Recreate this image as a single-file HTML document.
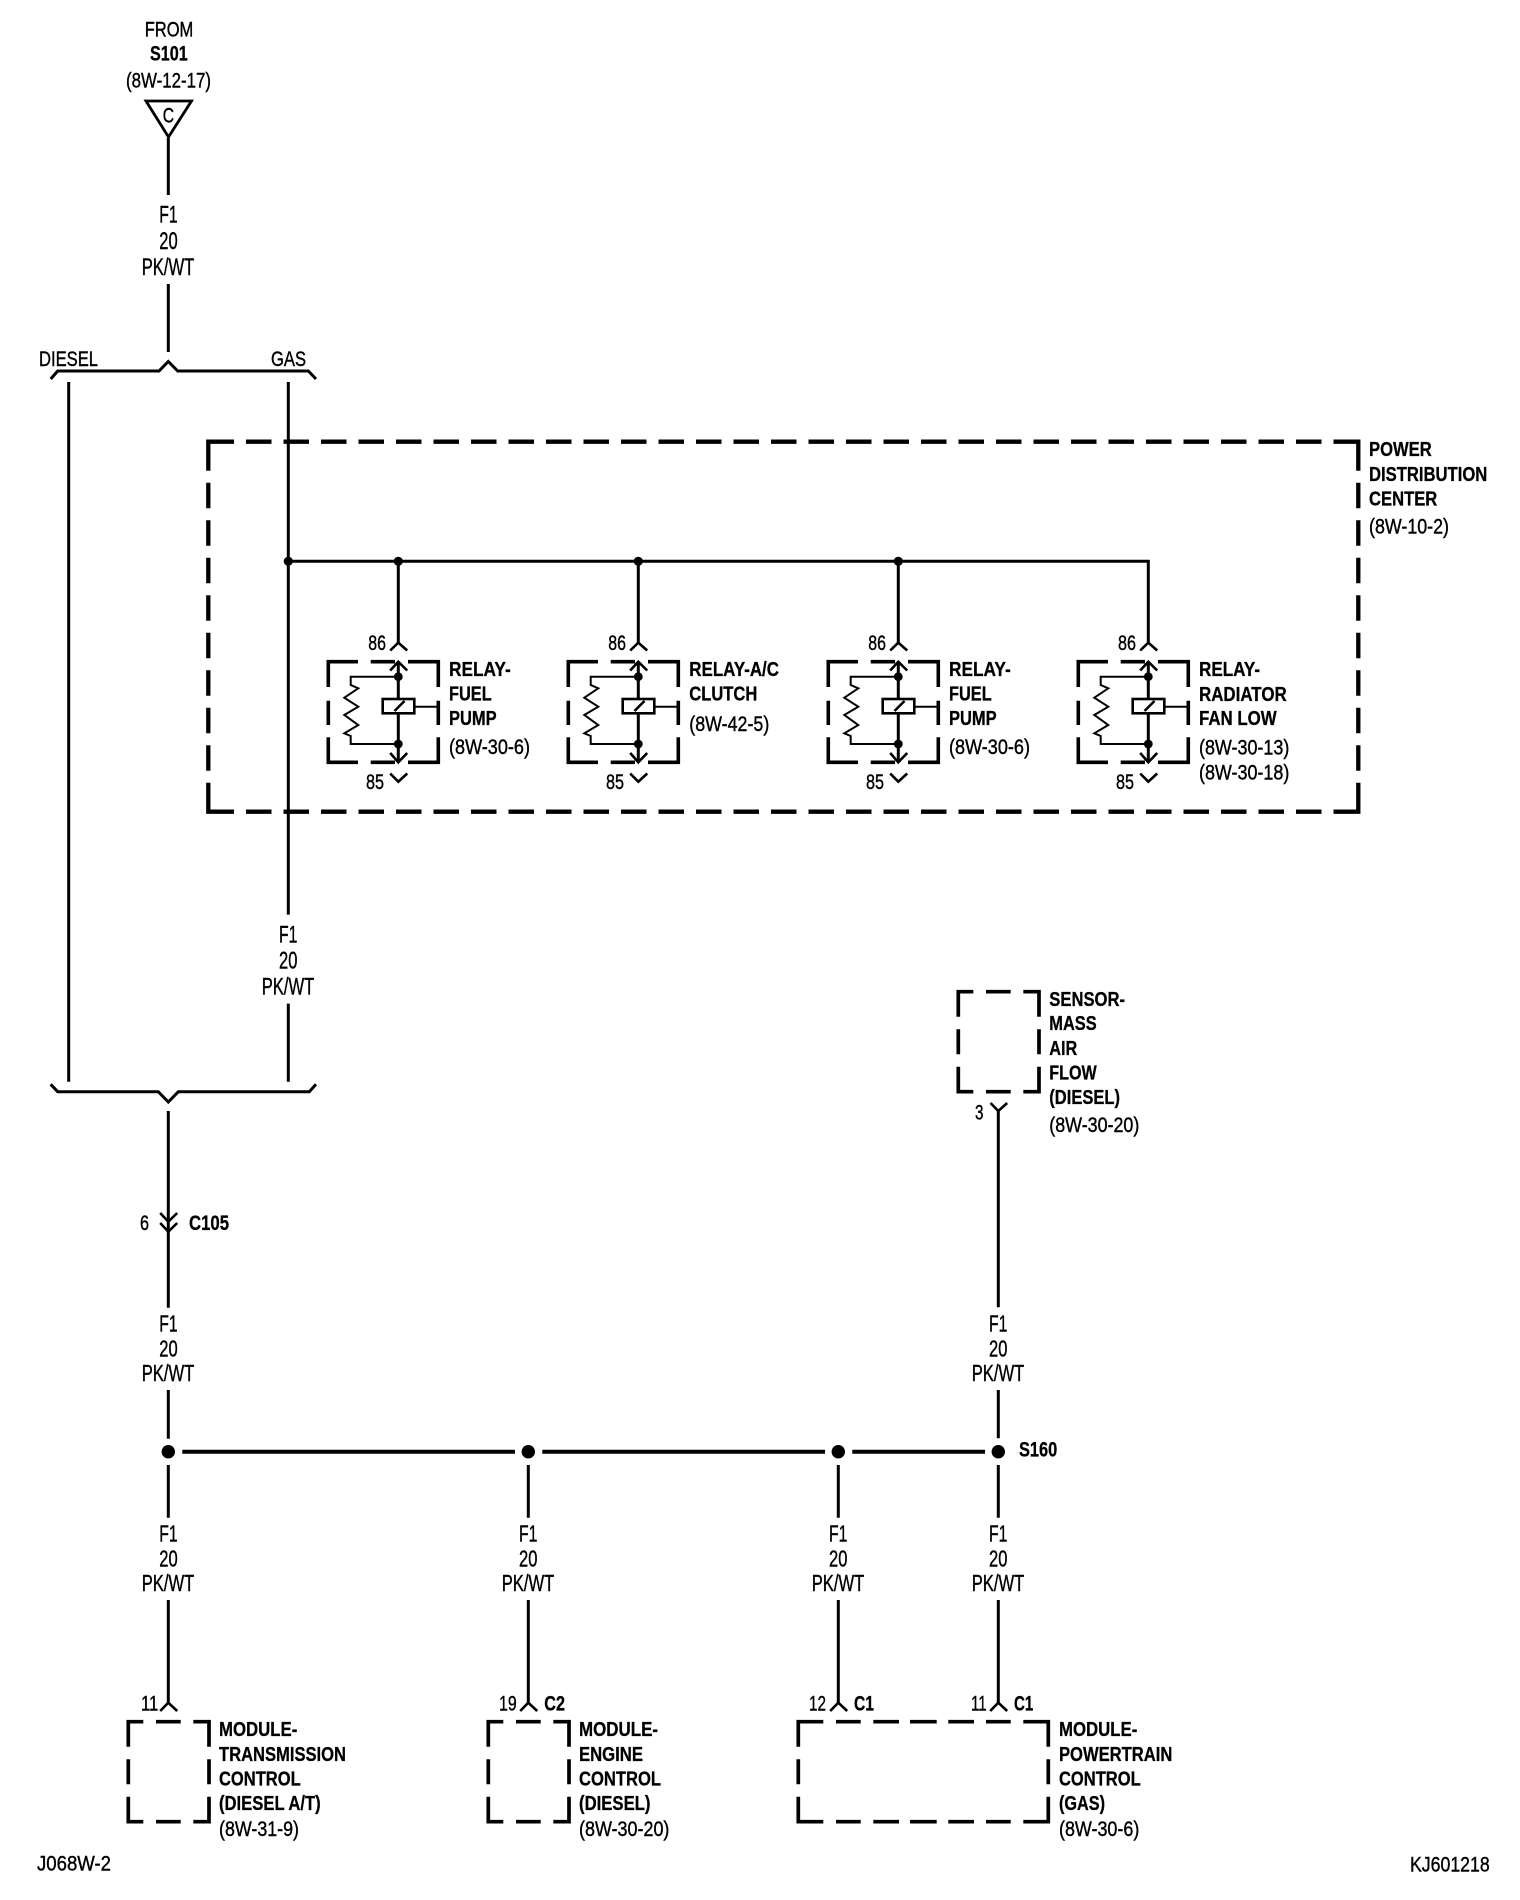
<!DOCTYPE html>
<html>
<head>
<meta charset="utf-8">
<title>Wiring diagram</title>
<style>
html,body{margin:0;padding:0;background:#fff}
svg{display:block}
text{font-family:"Liberation Sans",sans-serif;fill:#000;stroke:#000;stroke-width:.4px}
.b{font-weight:bold;font-size:20.5px;stroke-width:.3px}
.r{font-size:21px}
.w{font-size:23px}
.t{font-size:24px}
.n{font-size:21.5px}
.s{font-weight:bold;font-size:21.5px;stroke-width:.3px}
.l{fill:none;stroke:#000;stroke-linecap:butt;stroke-linejoin:miter}
</style>
</head>
<body>
<svg xmlns="http://www.w3.org/2000/svg" width="1520" height="1900" viewBox="0 0 1520 1900">
<rect width="1520" height="1900" fill="#fff"/>

<defs>
<g id="relay">
  <path class="l" stroke-width="3.6" d="M328.3 687V661.7H358M370.7 661.7H395M408 661.7H438.3V687M328.3 700.7V725M438.3 700.7V725M328.3 737.3V762.3H358M370.7 762.3H395M408 762.3H438.3V737.3"/>
  <path class="l" stroke-width="2.6" d="M390.2 650.5L398.3 642.7L407.2 650.5M390.2 670.5L398.3 661.7L407.2 670.5M390.2 753L398.3 762.3L407.2 753M390.2 773.5L398.3 781.7L407.2 773.5"/>
  <path class="l" stroke-width="3" d="M398.3 662V699M398.3 713.3V762"/>
  <circle cx="398.3" cy="676.7" r="4.4"/>
  <circle cx="398.3" cy="744" r="4.4"/>
  <rect class="l" stroke-width="2.6" x="382.7" y="699" width="31.6" height="14.3"/>
  <path class="l" stroke-width="2.6" d="M394.5 711L404.5 701"/>
  <path class="l" stroke-width="2" d="M414.3 706.7H437"/>
  <path class="l" stroke-width="2" d="M398 676.7H350.7V685L358.3 688.3L344.3 697.7L358.3 706.7L344.3 715L358.3 725L344.3 733.3L350.7 736V744H398"/>
</g>
<path id="mod" class="l" stroke-width="3.7" d="M128.3 1746.7V1721.7H143.3M156 1721.7H180.7M193.3 1721.7H209V1746.7M128.3 1759.3V1784.3M209 1759.3V1784.3M128.3 1796.7V1821.7H143.3M156 1821.7H180.7M193.3 1821.7H209V1796.7"/>
</defs>

<!-- top source -->
<text class="r" x="144.7" y="36.7" textLength="48.6" lengthAdjust="spacingAndGlyphs">FROM</text>
<text class="s" x="150" y="60.7" textLength="37.7" lengthAdjust="spacingAndGlyphs">S101</text>
<text class="r" x="126" y="87.3" textLength="85" lengthAdjust="spacingAndGlyphs">(8W-12-17)</text>
<path class="l" stroke-width="2.8" d="M146 101H191.5L168.5 137Z"/>
<text class="r" x="162.7" y="122.3" textLength="11.3" lengthAdjust="spacingAndGlyphs">C</text>
<path class="l" stroke-width="3" d="M168.3 138V195M168.3 284V352"/>
<text class="t" x="159.3" y="222.7" textLength="18.4" lengthAdjust="spacingAndGlyphs">F1</text>
<text class="t" x="159.3" y="249" textLength="18.4" lengthAdjust="spacingAndGlyphs">20</text>
<text class="t" x="141.7" y="275" textLength="52.6" lengthAdjust="spacingAndGlyphs">PK/WT</text>

<!-- upper bracket -->
<text class="n" x="39" y="366" textLength="59" lengthAdjust="spacingAndGlyphs">DIESEL</text>
<text class="n" x="271" y="366" textLength="35" lengthAdjust="spacingAndGlyphs">GAS</text>
<path class="l" stroke-width="3" d="M50.7 379L57.7 371H159L168.3 361.5L177.7 371H308.3L316 379"/>
<path class="l" stroke-width="3" d="M68.7 382V1081.7M288.3 382V914.6M288.3 1003.6V1081.7"/>
<text class="t" x="279" y="942.3" textLength="18.4" lengthAdjust="spacingAndGlyphs">F1</text>
<text class="t" x="279" y="968.6" textLength="18.4" lengthAdjust="spacingAndGlyphs">20</text>
<text class="t" x="261.7" y="994.6" textLength="52.6" lengthAdjust="spacingAndGlyphs">PK/WT</text>

<!-- power distribution center -->
<path class="l" stroke-width="4.3" d="M208.3 470.7V441.7H234M1333.5 441.7H1358.3V470.7M208.3 782.7V811.7H234M1333.5 811.7H1358.3V782.7"/>
<path class="l" stroke-width="4.3" stroke-dasharray="25.5 12" d="M246 441.7H1321.5M246 811.7H1321.5M208.3 482.7V770.7M1358.3 482.7V770.7"/>
<text class="b" x="1369" y="456" textLength="62.7" lengthAdjust="spacingAndGlyphs">POWER</text>
<text class="b" x="1369" y="481" textLength="118.3" lengthAdjust="spacingAndGlyphs">DISTRIBUTION</text>
<text class="b" x="1369" y="505.7" textLength="68.3" lengthAdjust="spacingAndGlyphs">CENTER</text>
<text class="r" x="1369" y="533.3" textLength="80" lengthAdjust="spacingAndGlyphs">(8W-10-2)</text>

<!-- bus -->
<path class="l" stroke-width="3" d="M288.3 561.3H1148.3V643M398.3 561.3V643M638.3 561.3V643M898.3 561.3V643"/>
<circle cx="288.3" cy="561.3" r="4.6"/>
<circle cx="398.3" cy="561.3" r="4.6"/>
<circle cx="638.3" cy="561.3" r="4.6"/>
<circle cx="898.3" cy="561.3" r="4.6"/>

<!-- relays -->
<use href="#relay"/>
<use href="#relay" transform="translate(240 0)"/>
<use href="#relay" transform="translate(500 0)"/>
<use href="#relay" transform="translate(750 0)"/>

<text class="n" x="368.3" y="650" textLength="17.7" lengthAdjust="spacingAndGlyphs">86</text>
<text class="n" x="366" y="789" textLength="18" lengthAdjust="spacingAndGlyphs">85</text>
<text class="b" x="449" y="676" textLength="61.7" lengthAdjust="spacingAndGlyphs">RELAY-</text>
<text class="b" x="449" y="700.7" textLength="42.7" lengthAdjust="spacingAndGlyphs">FUEL</text>
<text class="b" x="449" y="725" textLength="47.7" lengthAdjust="spacingAndGlyphs">PUMP</text>
<text class="r" x="449" y="754" textLength="81" lengthAdjust="spacingAndGlyphs">(8W-30-6)</text>

<text class="n" x="608.3" y="650" textLength="17.7" lengthAdjust="spacingAndGlyphs">86</text>
<text class="n" x="606" y="789" textLength="18" lengthAdjust="spacingAndGlyphs">85</text>
<text class="b" x="689.3" y="676" textLength="89.7" lengthAdjust="spacingAndGlyphs">RELAY-A/C</text>
<text class="b" x="689.3" y="700.7" textLength="68" lengthAdjust="spacingAndGlyphs">CLUTCH</text>
<text class="r" x="689.3" y="731" textLength="80" lengthAdjust="spacingAndGlyphs">(8W-42-5)</text>

<text class="n" x="868.3" y="650" textLength="17.7" lengthAdjust="spacingAndGlyphs">86</text>
<text class="n" x="866" y="789" textLength="18" lengthAdjust="spacingAndGlyphs">85</text>
<text class="b" x="949" y="676" textLength="61.7" lengthAdjust="spacingAndGlyphs">RELAY-</text>
<text class="b" x="949" y="700.7" textLength="42.7" lengthAdjust="spacingAndGlyphs">FUEL</text>
<text class="b" x="949" y="725" textLength="47.7" lengthAdjust="spacingAndGlyphs">PUMP</text>
<text class="r" x="949" y="754" textLength="81" lengthAdjust="spacingAndGlyphs">(8W-30-6)</text>

<text class="n" x="1118" y="650" textLength="18" lengthAdjust="spacingAndGlyphs">86</text>
<text class="n" x="1116" y="789" textLength="18" lengthAdjust="spacingAndGlyphs">85</text>
<text class="b" x="1199" y="676" textLength="61" lengthAdjust="spacingAndGlyphs">RELAY-</text>
<text class="b" x="1199" y="701" textLength="87.7" lengthAdjust="spacingAndGlyphs">RADIATOR</text>
<text class="b" x="1199" y="725" textLength="77.7" lengthAdjust="spacingAndGlyphs">FAN LOW</text>
<text class="r" x="1199" y="754.3" textLength="90.3" lengthAdjust="spacingAndGlyphs">(8W-30-13)</text>
<text class="r" x="1199" y="779.3" textLength="90.3" lengthAdjust="spacingAndGlyphs">(8W-30-18)</text>

<!-- lower bracket and C105 -->
<path class="l" stroke-width="3" d="M50.7 1084.3L57.7 1091.7H158.3L168.3 1102L178.3 1091.7H309.3L316 1084.3"/>
<path class="l" stroke-width="3" d="M168.3 1111V1307.7M168.3 1390V1438.7M168.3 1465V1517.7M168.3 1600V1703"/>
<path class="l" stroke-width="2.6" d="M160.2 1213L168.3 1221.7L177.2 1213M160.2 1223L168.3 1231.7L177.2 1223"/>
<text class="n" x="140" y="1230" textLength="9" lengthAdjust="spacingAndGlyphs">6</text>
<text class="s" x="189" y="1230" textLength="40" lengthAdjust="spacingAndGlyphs">C105</text>

<!-- wire labels -->
<text class="w" x="159.3" y="1331.7" textLength="18.4" lengthAdjust="spacingAndGlyphs">F1</text>
<text class="w" x="159.3" y="1356.7" textLength="18.4" lengthAdjust="spacingAndGlyphs">20</text>
<text class="w" x="141.7" y="1381" textLength="52.6" lengthAdjust="spacingAndGlyphs">PK/WT</text>

<text class="w" x="989" y="1331.7" textLength="18.4" lengthAdjust="spacingAndGlyphs">F1</text>
<text class="w" x="989" y="1356.7" textLength="18.4" lengthAdjust="spacingAndGlyphs">20</text>
<text class="w" x="971.7" y="1381" textLength="52.6" lengthAdjust="spacingAndGlyphs">PK/WT</text>

<text class="w" x="159.3" y="1541.7" textLength="18.4" lengthAdjust="spacingAndGlyphs">F1</text>
<text class="w" x="159.3" y="1566.7" textLength="18.4" lengthAdjust="spacingAndGlyphs">20</text>
<text class="w" x="141.7" y="1591" textLength="52.6" lengthAdjust="spacingAndGlyphs">PK/WT</text>

<text class="w" x="519" y="1541.7" textLength="18.4" lengthAdjust="spacingAndGlyphs">F1</text>
<text class="w" x="519" y="1566.7" textLength="18.4" lengthAdjust="spacingAndGlyphs">20</text>
<text class="w" x="501.7" y="1591" textLength="52.6" lengthAdjust="spacingAndGlyphs">PK/WT</text>

<text class="w" x="829" y="1541.7" textLength="18.4" lengthAdjust="spacingAndGlyphs">F1</text>
<text class="w" x="829" y="1566.7" textLength="18.4" lengthAdjust="spacingAndGlyphs">20</text>
<text class="w" x="811.7" y="1591" textLength="52.6" lengthAdjust="spacingAndGlyphs">PK/WT</text>

<text class="w" x="989" y="1541.7" textLength="18.4" lengthAdjust="spacingAndGlyphs">F1</text>
<text class="w" x="989" y="1566.7" textLength="18.4" lengthAdjust="spacingAndGlyphs">20</text>
<text class="w" x="971.7" y="1591" textLength="52.6" lengthAdjust="spacingAndGlyphs">PK/WT</text>

<!-- splice bus -->
<path class="l" stroke-width="4" d="M182.3 1451.7H515M542.3 1451.7H825M852.3 1451.7H985"/>
<circle cx="168.3" cy="1451.7" r="6.7"/>
<circle cx="528.3" cy="1451.7" r="6.7"/>
<circle cx="838.3" cy="1451.7" r="6.7"/>
<circle cx="998.3" cy="1451.7" r="6.7"/>
<text class="s" x="1019" y="1456.7" textLength="38.3" lengthAdjust="spacingAndGlyphs">S160</text>
<path class="l" stroke-width="3" d="M528.3 1465V1517.7M528.3 1600V1703M838.3 1465V1517.7M838.3 1600V1703M998.3 1465V1517.7M998.3 1600V1703M998.3 1111V1307.3M998.3 1390V1438.3"/>

<!-- sensor -->
<use href="#mod" transform="translate(830 -730)"/>
<path class="l" stroke-width="2.6" d="M990.5 1103L998.3 1111L1007.2 1103"/>
<text class="n" x="975" y="1119.3" textLength="8.5" lengthAdjust="spacingAndGlyphs">3</text>
<text class="b" x="1049.3" y="1006" textLength="75.7" lengthAdjust="spacingAndGlyphs">SENSOR-</text>
<text class="b" x="1049.3" y="1030" textLength="47.4" lengthAdjust="spacingAndGlyphs">MASS</text>
<text class="b" x="1049.3" y="1055" textLength="28" lengthAdjust="spacingAndGlyphs">AIR</text>
<text class="b" x="1049.3" y="1079.3" textLength="47.4" lengthAdjust="spacingAndGlyphs">FLOW</text>
<text class="b" x="1049.3" y="1104" textLength="70.7" lengthAdjust="spacingAndGlyphs">(DIESEL)</text>
<text class="r" x="1049.3" y="1132" textLength="90" lengthAdjust="spacingAndGlyphs">(8W-30-20)</text>

<!-- bottom modules -->
<path class="l" stroke-width="2.6" d="M160.2 1711L168.3 1702.7L177.2 1711M520.2 1711L528.3 1702.7L537.2 1711M830.2 1711L838.3 1702.7L847.2 1711M990.2 1711L998.3 1702.7L1007.2 1711"/>
<use href="#mod"/>
<use href="#mod" transform="translate(360 0)"/>
<path class="l" stroke-width="3.7" d="M823.3 1721.7H798.3V1746.7M836 1721.7H860.7M873.3 1721.7H899M910 1721.7H936.7M948.3 1721.7H974M986 1721.7H1010.7M1023.3 1721.7H1048.3V1746.7M798.3 1759.3V1784.3M1048.3 1759.3V1784.3M798.3 1796.7V1821.7H823.3M836 1821.7H860.7M873.3 1821.7H899M910 1821.7H936.7M948.3 1821.7H974M986 1821.7H1010.7M1023.3 1821.7H1048.3V1796.7"/>

<text class="n" x="141" y="1710.7" textLength="17.3" lengthAdjust="spacingAndGlyphs">11</text>
<text class="b" x="219" y="1736" textLength="78.3" lengthAdjust="spacingAndGlyphs">MODULE-</text>
<text class="b" x="219" y="1761" textLength="127" lengthAdjust="spacingAndGlyphs">TRANSMISSION</text>
<text class="b" x="219" y="1785.7" textLength="81.7" lengthAdjust="spacingAndGlyphs">CONTROL</text>
<text class="b" x="219" y="1810" textLength="101.7" lengthAdjust="spacingAndGlyphs">(DIESEL A/T)</text>
<text class="r" x="219" y="1836" textLength="80" lengthAdjust="spacingAndGlyphs">(8W-31-9)</text>

<text class="n" x="499" y="1710.7" textLength="17.7" lengthAdjust="spacingAndGlyphs">19</text>
<text class="s" x="544.3" y="1710.7" textLength="20.7" lengthAdjust="spacingAndGlyphs">C2</text>
<text class="b" x="579" y="1736" textLength="79" lengthAdjust="spacingAndGlyphs">MODULE-</text>
<text class="b" x="579" y="1761" textLength="64" lengthAdjust="spacingAndGlyphs">ENGINE</text>
<text class="b" x="579" y="1785.7" textLength="82" lengthAdjust="spacingAndGlyphs">CONTROL</text>
<text class="b" x="579" y="1810" textLength="71.5" lengthAdjust="spacingAndGlyphs">(DIESEL)</text>
<text class="r" x="579" y="1836" textLength="90.4" lengthAdjust="spacingAndGlyphs">(8W-30-20)</text>

<text class="n" x="809" y="1710.7" textLength="17" lengthAdjust="spacingAndGlyphs">12</text>
<text class="s" x="854" y="1710.7" textLength="20" lengthAdjust="spacingAndGlyphs">C1</text>
<text class="n" x="971" y="1710.7" textLength="15.7" lengthAdjust="spacingAndGlyphs">11</text>
<text class="s" x="1014" y="1710.7" textLength="19.3" lengthAdjust="spacingAndGlyphs">C1</text>
<text class="b" x="1059" y="1736" textLength="78.3" lengthAdjust="spacingAndGlyphs">MODULE-</text>
<text class="b" x="1059" y="1761" textLength="113.3" lengthAdjust="spacingAndGlyphs">POWERTRAIN</text>
<text class="b" x="1059" y="1785.7" textLength="81.7" lengthAdjust="spacingAndGlyphs">CONTROL</text>
<text class="b" x="1059" y="1810" textLength="46" lengthAdjust="spacingAndGlyphs">(GAS)</text>
<text class="r" x="1059" y="1836" textLength="80.3" lengthAdjust="spacingAndGlyphs">(8W-30-6)</text>

<!-- footer -->
<text class="r" x="37" y="1870.7" textLength="74" lengthAdjust="spacingAndGlyphs">J068W-2</text>
<text class="r" x="1410" y="1871.7" textLength="79.7" lengthAdjust="spacingAndGlyphs">KJ601218</text>
</svg>
</body>
</html>
